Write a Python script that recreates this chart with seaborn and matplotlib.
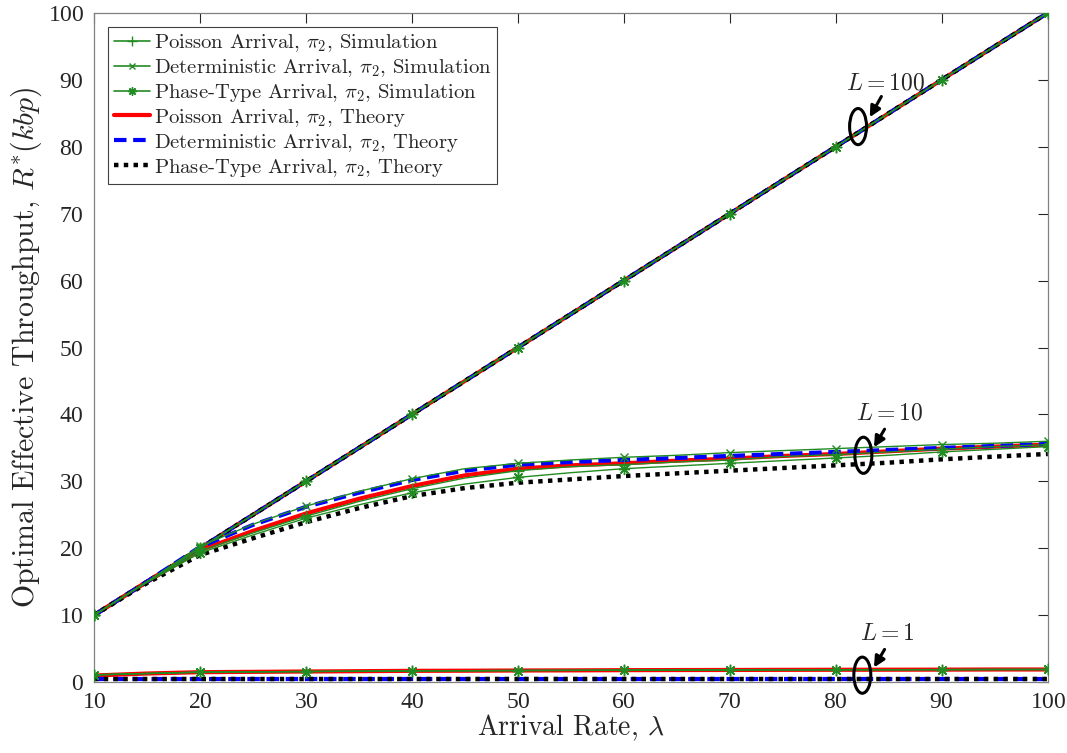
import numpy as np
import pandas as pd
import matplotlib
matplotlib.use("Agg")
import matplotlib.pyplot as plt
import seaborn as sns
from matplotlib.patches import Ellipse
from matplotlib.lines import Line2D

# ---------------- data ----------------
arrival_rate = [10, 15, 20, 25, 30, 35, 40, 45, 50, 55, 60, 65, 70, 75, 80, 85, 90, 95, 100]

# L = 100 (throughput equals arrival rate)
l100_poisson_sim = [10, 15, 20, 25, 30, 35, 40, 45, 50, 55, 60, 65, 70, 75, 80, 85, 90, 95, 100]
l100_det_sim     = [10, 15, 20, 25, 30, 35, 40, 45, 50, 55, 60, 65, 70, 75, 80, 85, 90, 95, 100]
l100_phase_sim   = [10, 15, 20, 25, 30, 35, 40, 45, 50, 55, 60, 65, 70, 75, 80, 85, 90, 95, 100]
l100_poisson_th  = [10, 15, 20, 25, 30, 35, 40, 45, 50, 55, 60, 65, 70, 75, 80, 85, 90, 95, 100]
l100_det_th      = [10, 15, 20, 25, 30, 35, 40, 45, 50, 55, 60, 65, 70, 75, 80, 85, 90, 95, 100]
l100_phase_th    = [10, 15, 20, 25, 30, 35, 40, 45, 50, 55, 60, 65, 70, 75, 80, 85, 90, 95, 100]

# L = 10
l10_poisson_sim = [10, 15, 19.6, 22.3, 24.8, 27.0, 28.9, 30.5, 31.6, 32.2, 32.5, 32.9, 33.2, 33.7, 34.0, 34.4, 34.8, 35.2, 35.5]
l10_det_sim     = [10, 15, 20.3, 23.6, 26.3, 28.5, 30.4, 31.9, 32.7, 33.2, 33.6, 33.9, 34.3, 34.6, 34.9, 35.2, 35.5, 35.7, 36.0]
l10_phase_sim   = [10, 14.9, 19.3, 22.0, 24.5, 26.5, 28.3, 29.6, 30.6, 31.3, 31.9, 32.3, 32.7, 33.1, 33.5, 33.9, 34.4, 34.8, 35.2]
l10_poisson_th  = [10, 15, 19.7, 22.6, 25.2, 27.4, 29.3, 30.9, 31.9, 32.4, 32.7, 33.1, 33.4, 33.8, 34.1, 34.5, 34.9, 35.2, 35.5]
l10_det_th      = [10, 15, 20.2, 23.5, 26.2, 28.3, 30.2, 31.6, 32.5, 32.9, 33.2, 33.5, 33.8, 34.1, 34.4, 34.7, 35.0, 35.3, 35.6]
l10_phase_th    = [10, 14.8, 19.0, 21.5, 23.9, 26.0, 27.8, 29.0, 29.8, 30.3, 30.8, 31.2, 31.6, 32.0, 32.4, 32.8, 33.3, 33.7, 34.1]

# L = 1
l1_poisson_sim = [1.1, 1.3, 1.5, 1.55, 1.6, 1.65, 1.7, 1.72, 1.75, 1.77, 1.8, 1.82, 1.83, 1.85, 1.86, 1.87, 1.88, 1.9, 1.9]
l1_det_sim     = [1.1, 1.3, 1.5, 1.55, 1.6, 1.65, 1.7, 1.72, 1.75, 1.77, 1.8, 1.82, 1.83, 1.85, 1.86, 1.87, 1.88, 1.9, 1.9]
l1_phase_sim   = [1.1, 1.3, 1.5, 1.55, 1.6, 1.65, 1.7, 1.72, 1.75, 1.77, 1.8, 1.82, 1.83, 1.85, 1.86, 1.87, 1.88, 1.9, 1.9]
l1_poisson_th  = [1.0, 1.3, 1.5, 1.55, 1.6, 1.65, 1.7, 1.72, 1.75, 1.77, 1.8, 1.82, 1.83, 1.85, 1.86, 1.87, 1.88, 1.9, 1.9]
l1_det_th      = [0.5] * 19
l1_phase_th    = [0.5] * 19

labels = [
    r"Poisson Arrival, $\pi_2$, Simulation",
    r"Deterministic Arrival, $\pi_2$, Simulation",
    r"Phase-Type Arrival, $\pi_2$, Simulation",
    r"Poisson Arrival, $\pi_2$, Theory",
    r"Deterministic Arrival, $\pi_2$, Theory",
    r"Phase-Type Arrival, $\pi_2$, Theory",
]

x_ticks = [10, 20, 30, 40, 50, 60, 70, 80, 90, 100]
y_ticks = [0, 10, 20, 30, 40, 50, 60, 70, 80, 90, 100]

# ---------------- style ----------------
sns.set_style("white")
plt.rcParams["font.family"] = ["serif"]
plt.rcParams["font.serif"] = ["cmr10", "DejaVu Serif"]
plt.rcParams["mathtext.fontset"] = "cm"
plt.rcParams["axes.formatter.use_mathtext"] = True

fig = plt.figure(figsize=(10.67, 7.53), dpi=100)
ax = fig.add_axes([0.088, 0.094, 0.894, 0.889])

green = "#218c21"
sim_styles = [
    dict(color=green, marker="+", markersize=9, mew=1.0, mec=green),
    dict(color=green, marker="x", markersize=6, mew=1.0, mec=green),
    dict(color=green, marker=(8, 2, 0), markersize=8, mew=1.0, mec=green),
]
th_styles = [
    dict(color="#ff0000", linestyle="-", linewidth=3.0),
    dict(color="#0000ff", linestyle=(0, (3, 1.6)), linewidth=3.0),
    dict(color="black", linestyle=(0, (1, 1.2)), linewidth=3.2),
]

groups = [
    (l100_poisson_sim, l100_det_sim, l100_phase_sim, l100_poisson_th, l100_det_th, l100_phase_th),
    (l10_poisson_sim, l10_det_sim, l10_phase_sim, l10_poisson_th, l10_det_th, l10_phase_th),
    (l1_poisson_sim, l1_det_sim, l1_phase_sim, l1_poisson_th, l1_det_th, l1_phase_th),
]

for grp in groups:
    for i in range(3):
        sns.lineplot(x=arrival_rate, y=grp[3 + i], ax=ax, zorder=2, **th_styles[i])
for grp in groups:
    for i in range(3):
        sns.lineplot(x=arrival_rate, y=grp[i], ax=ax, linewidth=1.0,
                     markevery=2, zorder=3, **sim_styles[i])

ax.set_xlim(10, 100)
ax.set_ylim(0, 100)
ax.set_xticks(x_ticks)
ax.set_yticks(y_ticks)
ax.tick_params(direction="in", length=7, width=0.8, top=True, right=True,
               labelsize=17, colors="#262626", pad=7)
for lab in ax.get_xticklabels() + ax.get_yticklabels():
    lab.set_fontfamily(["Liberation Serif"])
for s in ax.spines.values():
    s.set_visible(True)
    s.set_color("#808080")
    s.set_linewidth(0.9)

ax.set_xlabel(r"Arrival Rate, $\lambda$", fontsize=20, color="#262626", labelpad=0)
ax.set_ylabel(r"Optimal Effective Throughput, $R^{*}(kbp)$", fontsize=21.5, color="#262626", labelpad=3)

# legend
handles = []
for i in range(3):
    st = sim_styles[i]
    handles.append(Line2D([0], [0], color=st["color"], marker=st["marker"],
                          markersize=st["markersize"] * 0.75, mew=st["mew"], linewidth=1.2))
for i in range(3):
    handles.append(Line2D([0], [0], **th_styles[i]))
leg = ax.legend(handles, labels, loc="upper left", bbox_to_anchor=(0.0, 1.0),
                fontsize=14.9, handlelength=1.75, handletextpad=0.2,
                labelspacing=0.14, borderpad=0.25, borderaxespad=0.7,
                frameon=True, fancybox=False, edgecolor="#404040", framealpha=1)
leg.get_frame().set_linewidth(0.8)

# annotations: ellipses + arrows + labels
annots = [
    ((82.1, 83.0), (84.3, 87.5), (83.2, 84.4), (84.7, 89.5), r"$L=100$"),
    ((82.6, 33.9), (84.6, 37.8), (83.6, 35.1), (85.1, 40.2), r"$L=10$"),
    ((82.5, 1.05), (84.6, 4.9), (83.6, 2.2), (84.9, 7.2), r"$L=1$"),
]
for (cx, cy), tail, head, tpos, txt in annots:
    ax.add_patch(Ellipse((cx, cy), width=1.6, height=5.4, fill=False,
                         edgecolor="black", linewidth=2.2, zorder=10, clip_on=False))
    ax.annotate("", xy=head, xytext=tail,
                arrowprops=dict(arrowstyle="-|>", color="black", lw=2.2,
                                mutation_scale=16, shrinkA=0, shrinkB=0), zorder=11)
    ax.text(tpos[0], tpos[1], txt, fontsize=17, ha="center", va="center", zorder=12)

fig.savefig("out.png", dpi=100)
